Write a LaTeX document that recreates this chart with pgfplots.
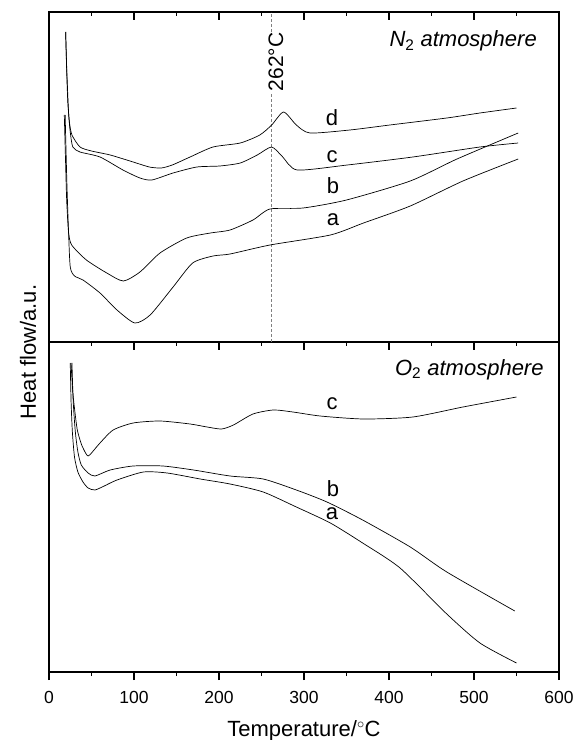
\documentclass[border=0pt]{standalone}
\usepackage{pgfplots}
\pgfplotsset{compat=1.18}
\usepackage{fontspec}
\setmainfont{Liberation Sans}

\newcommand{\lbl}{\fontsize{22}{24}\selectfont}
\newcommand{\tkl}{\fontsize{17.5}{18}\selectfont}
\pgfplotsset{
  panel/.style={
    width=510pt, height=330pt, scale only axis,
    xmin=0, xmax=600, ymin=0, ymax=330,
    ytick=\empty, xtick={0,100,...,600}, minor x tick num=1,
    axis line style={line width=1.5pt},
    major tick length=8pt, minor tick length=4pt,
    tick style={black, line width=1.2pt},
    /pgf/number format/assume math mode=true,
    tick label style={font=\tkl},
    clip=false,
  },
  curve/.style={black, line width=0.7pt, smooth, tension=0.4, mark=none},
}

\begin{document}
\begin{tikzpicture}
\path[use as bounding box] (-49pt,-68pt) rectangle (526pt,672pt);

% lower panel: O2
\begin{axis}[panel, xtick pos=left, tick align=outside,
    xticklabel style={font=\tkl, anchor=base, yshift=-23pt},
    xlabel={Temperature/$^\circ$C},
    xlabel style={font=\lbl, at={(axis description cs:0.5,0)}, anchor=base, yshift=-64pt}]
\addplot[curve] coordinates {(25.9,309) (28,280) (30.5,260) (33.3,242) (38,228) (43,219) (46,216) (50,219) (60,229) (75.5,242) (99,249) (130.6,251) (166,248) (186,245) (203,243) (217,247) (240,258) (264,262) (287,260) (319,256) (370,253) (428,255) (487,265) (550,275)};
\addplot[curve] coordinates {(27,309) (28.5,270) (31,240) (34,220) (38,207) (46,199) (54,196) (72,202) (99,206) (134,206) (170,202) (213,196) (252,193) (291,182) (327,170) (369,152) (425,125) (468,100) (548,61)};
\addplot[curve] coordinates {(25,309) (26,270) (27.5,240) (30,215) (34,200) (40,190) (46,184) (54,182) (65,186) (80,192) (111,200) (139,199) (178,193) (213,188) (252,180) (291,165) (331,149) (369,129) (413,104) (468,58) (507,29) (550,9)};
\node[font=\lbl] at (axis cs:333,268) {c};
\node[font=\lbl] at (axis cs:334,183) {b};
\node[font=\lbl] at (axis cs:333,158) {a};
\node[font=\lbl, anchor=base east] at (axis cs:586,297) {\textit{O}\textsubscript{2}\textit{ atmosphere}};
\end{axis}

% inner ticks on the top of the lower panel
\begin{axis}[panel, xtick pos=right, tick align=inside, xticklabels=\empty]
\end{axis}

% upper panel: N2
\begin{axis}[panel, at={(0,330pt)}, xtick pos=right, tick align=inside, xticklabels=\empty]
\addplot[gray, line width=0.8pt, dash pattern=on 3pt off 2pt] coordinates {(262,0) (262,330)};
\addplot[curve] coordinates {(19.6,310) (20.5,280) (22,242) (24,220) (27,207) (36.5,195) (50,191) (72,187) (99,180) (118,175) (132,174) (145,177) (166,185) (193,195) (225,199) (248,207) (262,217) (276,230) (291,217) (307,209) (354,212) (401,217) (468,224) (507,229) (550,234)};
\addplot[curve] coordinates {(19.6,310) (21,270) (23,230) (25,210) (28,195) (36.5,190) (60,185) (87,172) (107,164) (121,162) (146,169) (174,175) (201,176) (225,179) (245,187) (262,195) (275,185) (292,172) (351,177) (428,185) (507,195) (552,199)};
\addplot[curve] coordinates {(18,227) (19.5,180) (20.8,142) (23,110) (26.7,97) (44,82) (68,69) (87.5,61) (107,70) (130.6,89) (162,104) (190,109) (213,112) (240,122) (260,133) (299,134) (350,142) (425,161) (480,183) (552,209)};
\addplot[curve] coordinates {(19,227) (21,160) (23,110) (25,75) (30,66) (40,62) (60,49) (80,32) (101,19) (119,27) (146,55) (169,79) (193,86) (213,88) (260,97) (331,107) (370,119) (425,136) (487,161) (552,183)};
\node[font=\fontsize{21}{21}\selectfont, rotate=90, fill=white, inner sep=1pt] at (axis cs:267,280) {262°C};
\node[font=\lbl] at (axis cs:333,224) {d};
\node[font=\lbl] at (axis cs:333,185) {c};
\node[font=\lbl] at (axis cs:334,156) {b};
\node[font=\lbl] at (axis cs:334,122) {a};
\node[font=\lbl, anchor=base east] at (axis cs:578,295) {\textit{N}\textsubscript{2}\textit{ atmosphere}};
\end{axis}

\node[font=\lbl, rotate=90] at (-21pt,320pt) {Heat flow/a.u.};
\end{tikzpicture}
\end{document}
